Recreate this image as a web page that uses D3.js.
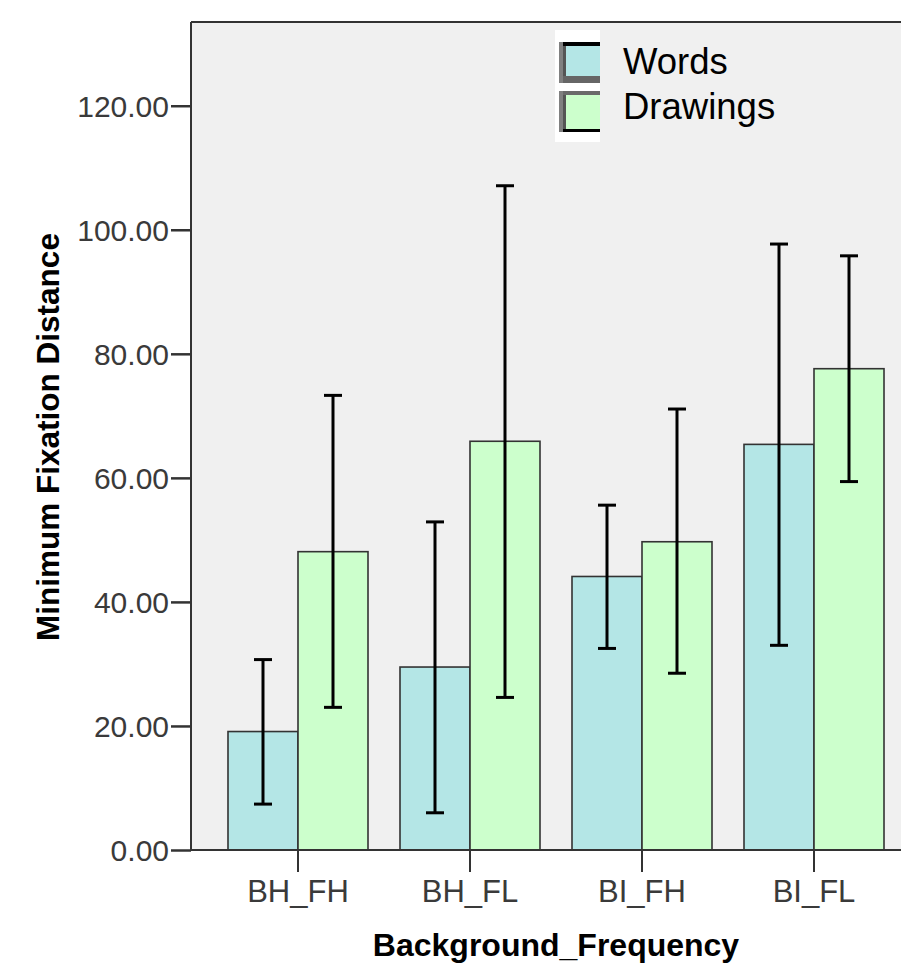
<!DOCTYPE html>
<html>
<head>
<meta charset="utf-8">
<script src="https://cdn.jsdelivr.net/npm/d3@7"></script>
<style>
  body { margin: 0; background: #fff; }
  svg { display: block; font-family: "Liberation Sans", Arial, sans-serif; }
</style>
</head>
<body>
<script>
const categories = ["BH_FH", "BH_FL", "BI_FH", "BI_FL"];
const series = ["Words", "Drawings"];
const wordsMean = [19.1, 29.5, 44.1, 65.4];
const wordsLow = [7.4, 6.0, 32.5, 33.0];
const wordsHigh = [30.7, 52.9, 55.6, 97.7];
const drawingsMean = [48.1, 65.9, 49.7, 77.6];
const drawingsLow = [23.0, 24.6, 28.5, 59.4];
const drawingsHigh = [73.3, 107.1, 71.1, 95.8];
const yTicks = [0, 20, 40, 60, 80, 100, 120];

const colors = { Words: "#b4e6e6", Drawings: "#ccffcc" };

const W = 901, H = 973;
const plotLeft = 191, plotTop = 22, plotBottom = 850;

const svg = d3.select("body").append("svg")
    .attr("width", W)
    .attr("height", H);

const y = d3.scaleLinear().domain([0, 133.5]).range([plotBottom, plotTop]);
const x = d3.scaleBand().domain(categories).range([212, 900])
    .paddingInner(32 / 172).paddingOuter(0.093);
const xs = d3.scaleBand().domain(series).range([0, x.bandwidth()]);

// plot background
svg.append("rect")
    .attr("x", plotLeft).attr("y", plotTop)
    .attr("width", W - plotLeft + 5).attr("height", plotBottom - plotTop)
    .attr("fill", "#f0f0f0");

const rows = [];
categories.forEach((c, i) => {
    rows.push({ cat: c, s: "Words", v: wordsMean[i], lo: wordsLow[i], hi: wordsHigh[i] });
    rows.push({ cat: c, s: "Drawings", v: drawingsMean[i], lo: drawingsLow[i], hi: drawingsHigh[i] });
});

svg.selectAll("rect.bar")
    .data(rows)
    .enter().append("rect")
    .attr("class", "bar")
    .attr("x", d => x(d.cat) + xs(d.s))
    .attr("y", d => y(d.v))
    .attr("width", xs.bandwidth())
    .attr("height", d => y(0) - y(d.v))
    .attr("fill", d => colors[d.s])
    .attr("stroke", "#333")
    .attr("stroke-width", 1.6);

// error bars
const eb = svg.selectAll("g.err").data(rows).enter().append("g")
    .attr("transform", d => `translate(${x(d.cat) + xs(d.s) + xs.bandwidth() / 2},0)`);
eb.append("line")
    .attr("y1", d => y(d.lo)).attr("y2", d => y(d.hi))
    .attr("stroke", "#000").attr("stroke-width", 3);
eb.append("line")
    .attr("x1", -9).attr("x2", 9)
    .attr("y1", d => y(d.hi)).attr("y2", d => y(d.hi))
    .attr("stroke", "#000").attr("stroke-width", 3);
eb.append("line")
    .attr("x1", -9).attr("x2", 9)
    .attr("y1", d => y(d.lo)).attr("y2", d => y(d.lo))
    .attr("stroke", "#000").attr("stroke-width", 3);

// frame lines
svg.append("line")
    .attr("x1", plotLeft).attr("x2", W).attr("y1", plotTop).attr("y2", plotTop)
    .attr("stroke", "#333").attr("stroke-width", 2);

// y axis
const yAxis = svg.append("g")
    .attr("transform", `translate(${plotLeft},0)`)
    .call(d3.axisLeft(y).tickValues(yTicks).tickFormat(d3.format(".2f"))
        .tickSize(20).tickSizeOuter(0).tickPadding(2));
yAxis.select(".domain").attr("stroke", "#333").attr("stroke-width", 2)
    .attr("d", `M0,${plotTop}V${plotBottom}`);
yAxis.selectAll(".tick line").attr("stroke", "#333").attr("stroke-width", 2.5);
yAxis.selectAll(".tick text")
    .attr("fill", "#3a3a3a").attr("font-size", 30).attr("dy", "0.36em")
    .style("font-family", "'Liberation Sans', Arial, sans-serif");

// x axis
const xAxis = svg.append("g")
    .attr("transform", `translate(0,${plotBottom})`)
    .call(d3.axisBottom(x).tickSize(22).tickSizeOuter(0).tickPadding(8));
xAxis.select(".domain").attr("stroke", "#333").attr("stroke-width", 2)
    .attr("d", `M${plotLeft},0H${W}`);
xAxis.selectAll(".tick line").attr("stroke", "#333").attr("stroke-width", 2);
xAxis.selectAll(".tick text")
    .attr("fill", "#3a3a3a").attr("font-size", 31)
    .style("font-family", "'Liberation Sans', Arial, sans-serif");

// axis titles
svg.append("text")
    .attr("x", 556).attr("y", 956)
    .attr("text-anchor", "middle")
    .attr("font-weight", "bold").attr("font-size", 32)
    .text("Background_Frequency");

svg.append("text")
    .attr("transform", "translate(59,437) rotate(-90)")
    .attr("text-anchor", "middle")
    .attr("font-weight", "bold").attr("font-size", 31.5)
    .text("Minimum Fixation Distance");

// legend
const lg = svg.append("g").attr("transform", "translate(555,30)");
lg.append("rect").attr("width", 45).attr("height", 112).attr("fill", "#fff");
const items = lg.selectAll("g.item").data(series).enter().append("g")
    .attr("transform", (d, i) => `translate(4,${12 + i * 49})`);
items.append("rect")
    .attr("width", 41).attr("height", 41)
    .attr("fill", d => colors[d]);
items.append("rect").attr("width", 4).attr("height", 41).attr("fill", "#808080");
items.append("rect").attr("x", 4).attr("width", 3).attr("height", 41).attr("fill", "#555");
items.append("rect").attr("x", 4).attr("width", 37).attr("height", 4)
    .attr("fill", (d, i) => i === 0 ? "#000" : "#6a6a6a");
items.append("rect").attr("x", 4).attr("y", (d, i) => i === 0 ? 34 : 38)
    .attr("width", 37).attr("height", (d, i) => i === 0 ? 7 : 3)
    .attr("fill", (d, i) => i === 0 ? "#666" : "#000");
items.append("text")
    .attr("x", 64).attr("y", (d, i) => i === 0 ? 32 : 28)
    .attr("font-size", 36.5).attr("fill", "#000")
    .text(d => d);
</script>
</body>
</html>
